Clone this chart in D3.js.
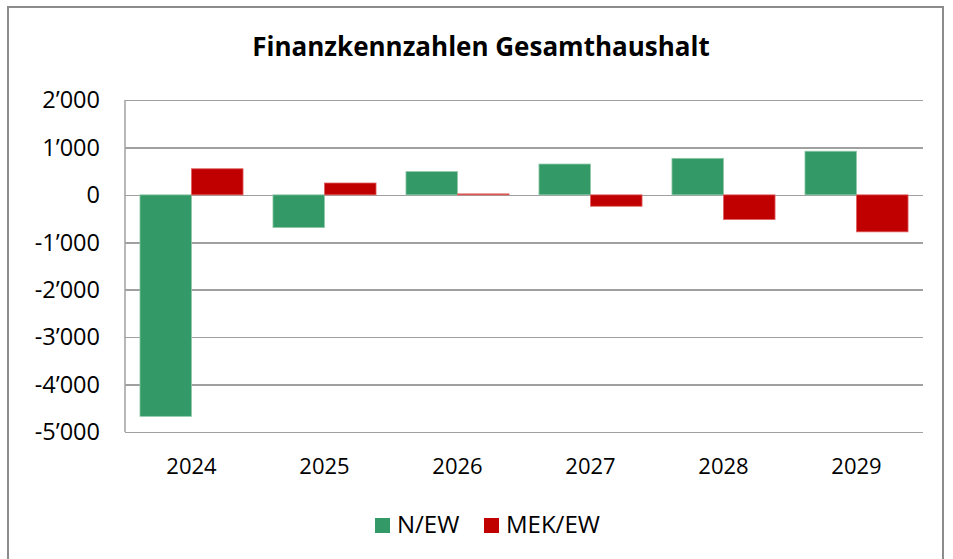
<!DOCTYPE html>
<meta charset="utf-8">
<style>
body { margin: 0; background: #fff; }
text { font-family: "Open Sans", "Noto Sans", sans-serif; fill: #000; }
.grid line { stroke: #a0a0a0; stroke-width: 1.5px; shape-rendering: crispEdges; }
.grid path { stroke-width: 0; }
</style>
<body>
<script src="https://d3js.org/d3.v7.min.js"></script>
<script>

// data
var years = ["2024", "2025", "2026", "2027", "2028", "2029"];
var seriesNames = ["N/EW", "MEK/EW"];
var nEW = [-4670, -690, 490, 650, 770, 920];
var mekEW = [550, 250, 20, -240, -520, -780];
var yTicks = [2000, 1000, 0, -1000, -2000, -3000, -4000, -5000];
var colors = ["#339966", "#c00000"];

var W = 953, H = 559;
var margin = {top: 100, right: 30, bottom: 127, left: 125},
    width = 923 - margin.left,
    height = 432 - margin.top;

var svg = d3.select("body").append("svg")
    .attr("width", W)
    .attr("height", H);

// outer frame
svg.append("rect")
    .attr("x", 8).attr("y", 7)
    .attr("width", 935).attr("height", 560)
    .attr("fill", "none")
    .attr("stroke", "#8c8c8c")
    .attr("stroke-width", 2);

var g = svg.append("g")
    .attr("transform", "translate(" + margin.left + "," + margin.top + ")");

var x0 = d3.scaleBand().domain(years).range([0, width]).paddingInner(0.225).paddingOuter(0.1125);
var x1 = d3.scaleBand().domain(seriesNames).range([0, x0.bandwidth()]);
var y = d3.scaleLinear().domain([-5000, 2000]).range([height, 0]);

var fmt = function(d) {
  var s = d3.format(",")(d).replace(/,/g, "\u2019");
  return s.replace("\u2212", "-");
};

// horizontal gridlines
g.append("g")
    .attr("class", "grid")
    .call(d3.axisLeft(y).tickValues(yTicks).tickSize(-width).tickFormat(""));

// left axis line
g.append("line")
    .attr("x1", 0).attr("x2", 0)
    .attr("y1", 0).attr("y2", height)
    .attr("stroke", "#a0a0a0").attr("stroke-width", 1.5);

// y tick labels
g.selectAll(".ylab")
    .data(yTicks)
  .enter().append("text")
    .attr("class", "ylab")
    .attr("x", -25)
    .attr("y", function(d) { return y(d); })
    .attr("dy", "0.35em")
    .attr("text-anchor", "end")
    .style("font-size", "23.5px")
    .text(fmt);

// bars
var rows = years.map(function(yr, i) {
  return {year: yr, vals: [
    {key: seriesNames[0], v: nEW[i]},
    {key: seriesNames[1], v: mekEW[i]}
  ]};
});

var groups = g.selectAll(".yr")
    .data(rows)
  .enter().append("g")
    .attr("transform", function(d) { return "translate(" + x0(d.year) + ",0)"; });

groups.selectAll("rect")
    .data(function(d) { return d.vals; })
  .enter().append("rect")
    .attr("x", function(d) { return x1(d.key); })
    .attr("width", x1.bandwidth())
    .attr("y", function(d) { return y(Math.max(0, d.v)); })
    .attr("height", function(d) { return Math.abs(y(d.v) - y(0)); })
    .attr("fill", function(d, i) { return colors[i]; })
    .attr("stroke", function(d, i) { return i === 0 ? "#8fc9a9" : "#e06060"; })
    .attr("stroke-width", 0.8);

// x labels
g.selectAll(".xlab")
    .data(years)
  .enter().append("text")
    .attr("x", function(d) { return x0(d) + x0.bandwidth() / 2; })
    .attr("y", height + 42)
    .attr("text-anchor", "middle")
    .style("font-size", "22px")
    .text(function(d) { return d; });

// title
svg.append("text")
    .attr("x", 481)
    .attr("y", 56)
    .attr("text-anchor", "middle")
    .style("font-size", "26px")
    .style("font-weight", "bold")
    .text("Finanzkennzahlen Gesamthaushalt");

// legend
var legX = [375, 484];
var leg = svg.selectAll(".leg")
    .data(seriesNames)
  .enter().append("g")
    .attr("transform", function(d, i) { return "translate(" + legX[i] + ",518)"; });
leg.append("rect")
    .attr("width", 15).attr("height", 15)
    .attr("fill", function(d, i) { return colors[i]; });
leg.append("text")
    .attr("x", 22).attr("y", 15)
    .style("font-size", "24px")
    .text(function(d) { return d; });

</script>
</body>
